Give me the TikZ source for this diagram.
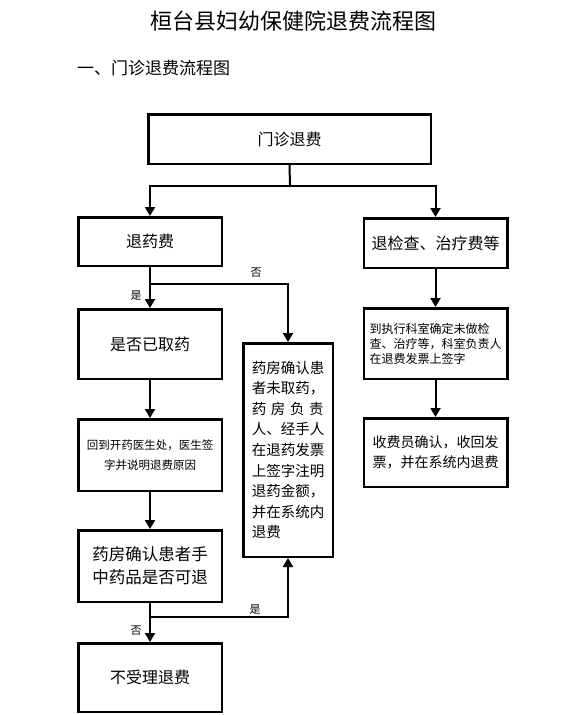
\documentclass[tikz,border=0pt]{standalone}
\usepackage{fontspec}
\setmainfont{Noto Sans CJK SC}
\usetikzlibrary{arrows.meta, positioning}
\tikzset{
    box/.style = {rectangle, draw=black, line width=2.5pt, text centered, inner sep=2pt},
    colbox/.style = {box, minimum width=143.5pt},
    tallbox/.style = {box, minimum width=89.5pt, minimum height=213.5pt},
    line/.style = {line width=2pt},
    arrow/.style = {line width=2pt, -{Triangle[length=9pt,width=10pt]}},
    lbl/.style = {font=\fontsize{11}{13}\selectfont, inner sep=0pt}
}

\begin{document}
\begin{tikzpicture}[x=1pt, y=-1pt]
    \useasboundingbox (0,0) rectangle (564,715);

    % Titel
    \node (title) [font=\fontsize{22}{26}\selectfont] at (293,21) {桓台县妇幼保健院退费流程图};
    \node (sub) [anchor=west, inner sep=0pt, font=\fontsize{17}{20}\selectfont] at (77,68) {一、门诊退费流程图};

    % Nodos
    \node (n1) [box, minimum width=282.5pt, minimum height=49.5pt, font=\fontsize{16}{20}\selectfont] at (289.5,139)
        {门诊退费};
    \node (n2) [colbox, minimum height=48.5pt, font=\fontsize{16}{20}\selectfont] at (150,241.5)
        {退药费};
    \node (n3) [colbox, minimum height=49.5pt, font=\fontsize{16}{20}\selectfont] at (435.5,243)
        {退检查、治疗费等};
    \node (n4) [colbox, minimum height=69.5pt, font=\fontsize{16}{20}\selectfont] at (150,344)
        {是否已取药};
    \node (n5) [colbox, minimum height=71.5pt, align=center, font=\fontsize{11.5}{20}\selectfont] at (150,455)
        {回到开药医生处，医生签\\字并说明退费原因};
    \node (n6) [colbox, minimum height=71.5pt, align=center, font=\fontsize{16.5}{23}\selectfont] at (150,566)
        {药房确认患者手\\中药品是否可退};
    \node (n7) [colbox, minimum height=68.5pt, font=\fontsize{16}{20}\selectfont] at (150,677.5)
        {不受理退费};
    \node (n8) [tallbox, align=left, font=\fontsize{14.5}{20.6}\selectfont] at (288,450)
        {药房确认患\\者未取药，\\
         \makebox[72pt]{药\hfill 房\hfill 负\hfill 责}\\人、经手人\\在退药发票\\上签字注明\\
         退药金额，\\并在系统内\\退费};
    \node (n9) [colbox, minimum height=70.5pt, align=left, font=\fontsize{12}{15}\selectfont] at (435.5,343.5)
        {到执行科室确定未做检\\查、治疗等，科室负责人\\在退费发票上签字};
    \node (n10) [colbox, minimum height=68.5pt, align=left, font=\fontsize{14}{20}\selectfont] at (435.5,452.5)
        {收费员确认，收回发\\票，并在系统内退费};

    % Etiquetas
    \node (yes1) [lbl] at (136,296) {是};
    \node (no1) [lbl] at (256,273) {否};
    \node (yes2) [lbl] at (255,610) {是};
    \node (no2) [lbl] at (136,631) {否};

    % Flechas
    \coordinate (j1) at (290,186);
    \coordinate (b1) at (150,284);
    \coordinate (b2) at (150,617);
    \draw [line] (n1.south) -- (j1);
    \draw [arrow] (j1) -| (n2.north);
    \draw [arrow] (j1) -| (n3.north);
    \draw [arrow] (n2) -- (n4);
    \draw [arrow] (b1) -| (n8.north);
    \draw [arrow] (n4) -- (n5);
    \draw [arrow] (n5) -- (n6);
    \draw [arrow] (n6) -- (n7);
    \draw [arrow] (b2) -| (n8.south);
    \draw [arrow] (n3) -- (n9);
    \draw [arrow] (n9) -- (n10);
\end{tikzpicture}
\end{document}
